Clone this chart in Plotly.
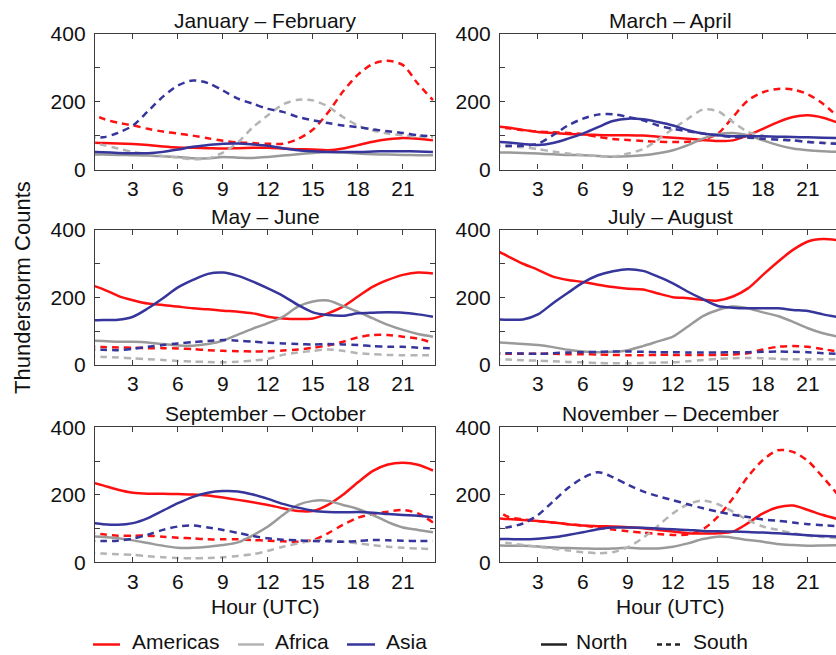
import plotly.graph_objects as go

# Hour of day (UTC)
HOURS = list(range(24))

PANEL_TITLES = ["January – February", "March – April", "May – June",
                "July – August", "September – October", "November – December"]

# Diurnal thunderstorm counts, one list per region / hemisphere per bimonthly period
jf_americas_n = [80, 78, 77, 75, 72, 68, 65, 64, 63, 62, 63, 64, 64, 62, 60, 59, 57, 62, 72, 82, 89, 93, 91, 86]
jf_americas_s = [170, 150, 138, 130, 120, 112, 106, 100, 92, 85, 80, 78, 76, 76, 90, 118, 168, 230, 280, 312, 321, 308, 253, 205]
jf_africa_n = [45, 44, 43, 42, 41, 39, 37, 33, 33, 37, 35, 34, 37, 41, 45, 49, 52, 50, 47, 45, 44, 43, 42, 42]
jf_africa_s = [80, 72, 62, 52, 46, 40, 35, 30, 33, 50, 80, 125, 160, 192, 206, 204, 186, 155, 130, 115, 106, 101, 97, 96]
jf_asia_n = [52, 51, 49, 48, 48, 52, 59, 67, 72, 76, 77, 74, 70, 63, 57, 54, 52, 52, 52, 53, 54, 54, 53, 52]
jf_asia_s = [96, 95, 108, 130, 172, 215, 248, 263, 255, 233, 209, 194, 179, 170, 155, 145, 137, 130, 125, 118, 113, 108, 101, 98]

ma_americas_n = [128, 124, 117, 111, 108, 105, 103, 102, 101, 101, 100, 97, 94, 91, 87, 84, 86, 101, 120, 140, 155, 160, 153, 138]
ma_americas_s = [126, 122, 116, 112, 110, 108, 104, 96, 90, 87, 84, 82, 81, 82, 88, 106, 155, 204, 228, 238, 236, 222, 194, 155]
ma_africa_n = [50, 50, 49, 47, 45, 43, 42, 40, 38, 39, 42, 48, 57, 72, 91, 104, 108, 101, 86, 72, 62, 57, 54, 52]
ma_africa_s = [68, 67, 66, 60, 53, 47, 43, 40, 38, 47, 60, 88, 120, 150, 177, 172, 140, 111, 100, 92, 86, 82, 79, 78]
ma_asia_n = [82, 80, 75, 72, 78, 91, 106, 125, 143, 150, 148, 140, 130, 116, 106, 101, 98, 98, 98, 97, 96, 95, 94, 93]
ma_asia_s = [70, 70, 70, 76, 101, 130, 150, 162, 163, 155, 145, 130, 120, 113, 106, 101, 96, 94, 91, 88, 86, 81, 78, 76]

mj_americas_n = [240, 225, 205, 192, 182, 178, 173, 168, 165, 161, 158, 153, 143, 138, 136, 138, 153, 173, 203, 232, 252, 267, 274, 271]
mj_americas_s = [55, 53, 52, 51, 50, 50, 49, 47, 44, 42, 41, 40, 41, 43, 46, 51, 58, 69, 82, 89, 89, 84, 78, 65]
mj_africa_n = [73, 71, 69, 69, 67, 62, 58, 57, 62, 72, 90, 108, 124, 143, 173, 188, 191, 175, 158, 138, 119, 104, 92, 84]
mj_africa_s = [26, 24, 22, 20, 17, 15, 12, 10, 9, 8, 10, 13, 18, 30, 37, 42, 46, 42, 35, 32, 30, 29, 29, 29]
mj_asia_n = [133, 133, 134, 143, 168, 198, 230, 252, 270, 274, 264, 247, 227, 205, 178, 156, 148, 146, 153, 155, 156, 155, 150, 143]
mj_asia_s = [46, 45, 44, 48, 54, 59, 64, 68, 71, 74, 72, 69, 66, 64, 62, 61, 62, 61, 59, 56, 54, 54, 51, 49]

ja_americas_n = [345, 322, 300, 282, 262, 252, 246, 238, 231, 226, 224, 212, 201, 198, 193, 191, 203, 227, 267, 306, 341, 366, 373, 370]
ja_americas_s = [33, 33, 33, 33, 33, 32, 32, 31, 30, 29, 29, 30, 30, 30, 30, 30, 31, 35, 46, 54, 56, 54, 47, 40]
ja_africa_n = [68, 65, 62, 59, 53, 45, 40, 38, 39, 44, 56, 70, 84, 114, 145, 163, 173, 168, 156, 145, 128, 109, 94, 84]
ja_africa_s = [17, 16, 14, 13, 11, 9, 8, 6, 5, 5, 6, 7, 8, 11, 15, 18, 20, 21, 20, 18, 17, 17, 17, 17]
ja_asia_n = [136, 134, 135, 150, 183, 214, 244, 266, 278, 284, 279, 262, 242, 217, 195, 175, 170, 168, 168, 168, 163, 160, 150, 142]
ja_asia_s = [35, 35, 34, 33, 35, 37, 38, 39, 40, 40, 39, 38, 38, 37, 37, 37, 38, 38, 39, 40, 39, 38, 35, 33]

so_americas_n = [240, 228, 215, 206, 203, 203, 202, 201, 198, 192, 185, 178, 170, 160, 152, 152, 170, 200, 237, 271, 290, 295, 289, 272]
so_americas_s = [88, 83, 79, 79, 79, 76, 73, 71, 68, 68, 68, 66, 64, 62, 61, 66, 86, 111, 132, 143, 150, 155, 145, 118]
so_africa_n = [77, 75, 71, 65, 57, 49, 43, 43, 46, 51, 59, 80, 106, 140, 170, 182, 182, 170, 158, 140, 119, 103, 96, 89]
so_africa_s = [28, 26, 24, 22, 18, 15, 13, 12, 13, 15, 19, 24, 34, 46, 56, 64, 66, 61, 56, 51, 46, 43, 41, 39]
so_asia_n = [118, 113, 111, 116, 131, 153, 175, 194, 206, 211, 210, 201, 188, 173, 162, 153, 149, 148, 149, 147, 143, 140, 138, 133]
so_asia_s = [63, 63, 64, 70, 82, 96, 106, 109, 103, 96, 87, 78, 71, 67, 65, 63, 62, 61, 63, 66, 65, 64, 63, 63]

nd_americas_n = [132, 128, 125, 122, 118, 113, 109, 107, 106, 104, 101, 96, 91, 86, 85, 86, 91, 116, 145, 163, 168, 155, 140, 128]
nd_americas_s = [162, 135, 127, 122, 118, 113, 109, 103, 97, 92, 88, 84, 81, 82, 98, 135, 190, 254, 303, 332, 327, 300, 252, 200]
nd_africa_n = [50, 49, 49, 47, 44, 42, 41, 40, 41, 43, 41, 41, 46, 56, 69, 76, 73, 66, 61, 54, 51, 49, 50, 51]
nd_africa_s = [64, 57, 51, 46, 40, 35, 30, 27, 30, 45, 72, 108, 145, 172, 183, 172, 150, 125, 106, 96, 86, 79, 75, 72]
nd_asia_n = [69, 69, 68, 70, 74, 81, 89, 98, 103, 103, 102, 100, 98, 96, 93, 92, 91, 90, 88, 86, 83, 80, 78, 76]
nd_asia_s = [100, 104, 115, 140, 180, 220, 250, 267, 252, 230, 210, 196, 184, 172, 160, 150, 141, 134, 127, 123, 118, 113, 110, 107]

PANELS = [
    dict(americas=(jf_americas_n, jf_americas_s), africa=(jf_africa_n, jf_africa_s), asia=(jf_asia_n, jf_asia_s)),
    dict(americas=(ma_americas_n, ma_americas_s), africa=(ma_africa_n, ma_africa_s), asia=(ma_asia_n, ma_asia_s)),
    dict(americas=(mj_americas_n, mj_americas_s), africa=(mj_africa_n, mj_africa_s), asia=(mj_asia_n, mj_asia_s)),
    dict(americas=(ja_americas_n, ja_americas_s), africa=(ja_africa_n, ja_africa_s), asia=(ja_asia_n, ja_asia_s)),
    dict(americas=(so_americas_n, so_americas_s), africa=(so_africa_n, so_africa_s), asia=(so_asia_n, so_asia_s)),
    dict(americas=(nd_americas_n, nd_americas_s), africa=(nd_africa_n, nd_africa_s), asia=(nd_asia_n, nd_asia_s)),
]

REGION_NAMES = {"americas": "Americas", "africa": "Africa", "asia": "Asia"}
NORTH_COLORS = {"americas": "#ff1010", "africa": "#9a9a9a", "asia": "#35359c"}
SOUTH_COLORS = {"americas": "#ff1010", "africa": "#b4b4b4", "asia": "#35359c"}

X_TICKS = [3, 6, 9, 12, 15, 18, 21]
Y_TICKS = [0, 100, 200, 300, 400]
Y_TICK_TEXT = ["0", "", "200", "", "400"]

W, H = 836, 655
FONT = "Liberation Sans, Arial, Helvetica, sans-serif"
FS = 21

# panel boxes in pixels: (left, right, top, bottom)
COLS = [(95, 435), (500, 840)]
ROWS = [(34, 169.5), (230, 365), (427.3, 562.3)]
X_LO = 0.47
PX_PER_HOUR = 15.0

fig = go.Figure()

for i, panel in enumerate(PANELS):
    k = i + 1
    xa = "x" if k == 1 else f"x{k}"
    ya = "y" if k == 1 else f"y{k}"
    for region in ["americas", "africa", "asia"]:
        north, south = panel[region]
        fig.add_trace(go.Scatter(
            x=HOURS, y=north, mode="lines", xaxis=xa, yaxis=ya,
            line=dict(color=NORTH_COLORS[region], width=2.5, shape="spline", smoothing=0.8),
            showlegend=False, hoverinfo="skip"))
        fig.add_trace(go.Scatter(
            x=HOURS, y=south, mode="lines", xaxis=xa, yaxis=ya,
            line=dict(color=SOUTH_COLORS[region], width=2.5, dash="7px,5px",
                      shape="spline", smoothing=0.8),
            showlegend=False, hoverinfo="skip"))

axis_common = dict(showgrid=False, zeroline=False, showline=True, linecolor="#3c3c3c",
                   linewidth=1.3, ticks="inside", ticklen=5, tickwidth=1.2,
                   tickcolor="#3c3c3c", automargin=False,
                   tickfont=dict(family=FONT, size=FS, color="#111"))

layout = {}
for i in range(6):
    r, c = divmod(i, 2)
    k = i + 1
    left, right = COLS[c]
    top, bottom = ROWS[r]
    vis_right = min(right, W)
    x_hi = X_LO + (vis_right - left) / PX_PER_HOUR
    xd = [left / W, vis_right / W]
    yd = [1 - bottom / H, 1 - top / H]
    xname = "xaxis" if k == 1 else f"xaxis{k}"
    yname = "yaxis" if k == 1 else f"yaxis{k}"
    layout[xname] = dict(axis_common, domain=xd, range=[X_LO, x_hi], tickvals=X_TICKS,
                         anchor="y" if k == 1 else f"y{k}", mirror="ticks",
                         ticklabelstandoff=0)
    layout[yname] = dict(axis_common, domain=yd, range=[0, 400], tickvals=Y_TICKS,
                         ticktext=Y_TICK_TEXT, anchor="x" if k == 1 else f"x{k}",
                         mirror="ticks" if right <= W else False,
                         ticklabelstandoff=4)

annotations = []
title_y = [20, 216.5, 413]
for i, title in enumerate(PANEL_TITLES):
    r, c = divmod(i, 2)
    left, right = COLS[c]
    annotations.append(dict(text=title, x=(left + right) / 2 / W, y=1 - title_y[r] / H,
                            xref="paper", yref="paper", showarrow=False,
                            xanchor="center", yanchor="middle",
                            font=dict(family=FONT, size=FS, color="#111")))

for c in range(2):
    left, right = COLS[c]
    annotations.append(dict(text="Hour (UTC)", x=(left + right) / 2 / W, y=1 - 606 / H,
                            xref="paper", yref="paper", showarrow=False,
                            xanchor="center", yanchor="middle",
                            font=dict(family=FONT, size=FS, color="#111")))

annotations.append(dict(text="Thunderstorm Counts", x=23 / W, y=1 - 288 / H, textangle=-90,
                        xref="paper", yref="paper", showarrow=False,
                        xanchor="center", yanchor="middle",
                        font=dict(family=FONT, size=22, color="#111")))

# legend keys drawn along the bottom edge
shapes = []
legend_line_y = 644.5
legend_text_y = 641
legend_items = [
    (93, 120, 130, NORTH_COLORS["americas"], "solid", REGION_NAMES["americas"]),
    (238, 264, 273, SOUTH_COLORS["africa"], "solid", REGION_NAMES["africa"]),
    (347, 375, 384, NORTH_COLORS["asia"], "solid", REGION_NAMES["asia"]),
    (541, 567, 574, "#222222", "solid", "North"),
    (657, 680, 691, "#222222", "5px,4px", "South"),
]
for x0, x1, xt, color, dash, label in legend_items:
    shapes.append(dict(type="line", xref="paper", yref="paper",
                       x0=x0 / W, x1=x1 / W, y0=1 - legend_line_y / H, y1=1 - legend_line_y / H,
                       line=dict(color=color, width=2.5, dash=dash)))
    annotations.append(dict(text=label, x=xt / W, y=1 - legend_text_y / H,
                            xref="paper", yref="paper", showarrow=False,
                            xanchor="left", yanchor="middle",
                            font=dict(family=FONT, size=FS, color="#111")))

fig.update_layout(
    width=W, height=H,
    margin=dict(l=0, r=0, t=0, b=0, autoexpand=False),
    paper_bgcolor="white", plot_bgcolor="white",
    annotations=annotations, shapes=shapes,
    showlegend=False,
    **layout,
)

fig.write_html("out.html", config={"displayModeBar": False})
